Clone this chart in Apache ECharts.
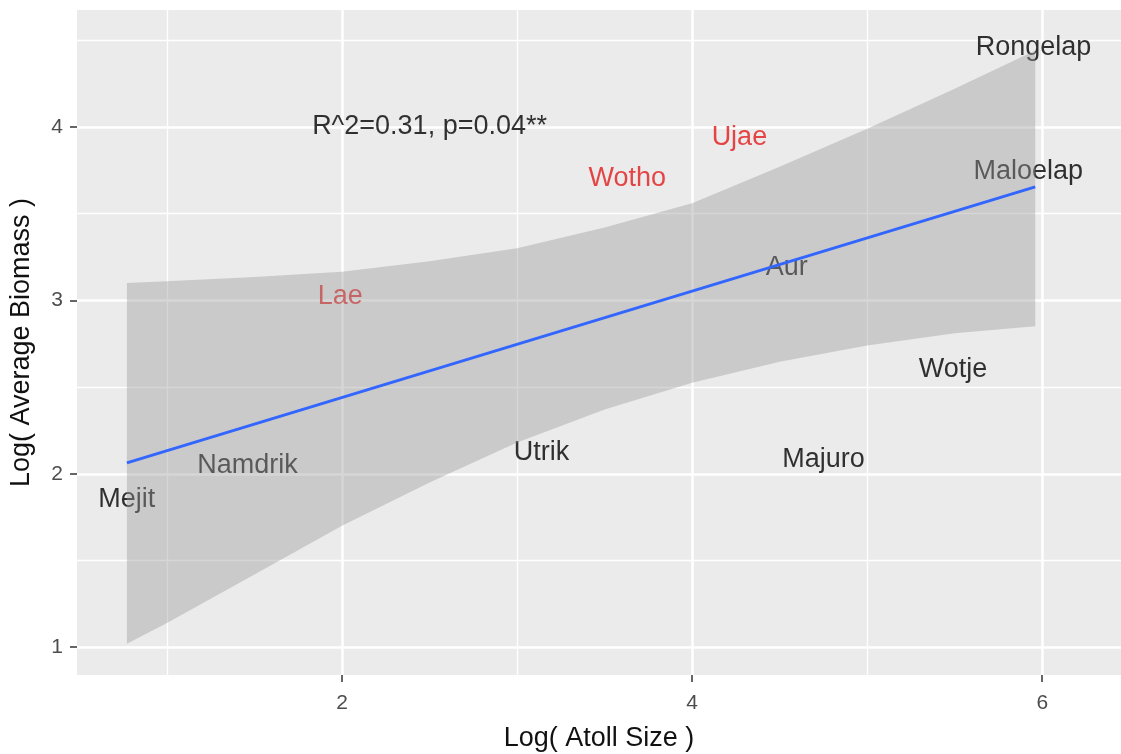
<!DOCTYPE html>
<html lang="en" style="height: 100%">
<head>
<meta charset="utf-8">
<title>Atoll size vs average biomass</title>
</head>
<body style="height: 100%; margin: 0; background: #fff">
<div id="container" style="height: 100%"></div>

<script type="text/javascript" src="https://cdn.jsdelivr.net/npm/echarts/dist/echarts.min.js"></script>

<script type="text/javascript">

var dom = document.getElementById('container');
var myChart = echarts.init(dom, null, {width: 1121, height: 754});

// atoll labels (geom_text points)
const atolls = ['Rongelap', 'Maloelap', 'Ujae', 'Wotho', 'Aur', 'Lae', 'Wotje', 'Majuro', 'Utrik', 'Namdrik', 'Mejit'];
const logAtollSize = [5.95, 5.92, 4.27, 3.63, 4.54, 1.99, 5.49, 4.75, 3.14, 1.46, 0.77];
const logBiomass = [4.46, 3.74, 3.94, 3.70, 3.19, 3.02, 2.60, 2.08, 2.12, 2.05, 1.85];
const redAtolls = ['Ujae', 'Wotho', 'Lae'];

// fitted line and its confidence band
const fitX = [0.771, 5.96];
const fitY = [2.063, 3.654];
const bandX = [0.771, 1, 1.5, 2, 2.5, 3, 3.5, 4, 4.5, 5, 5.5, 5.96];
const bandUpper = [3.10, 3.11, 3.135, 3.165, 3.225, 3.30, 3.42, 3.56, 3.77, 3.99, 4.22, 4.44];
const bandLower = [1.02, 1.14, 1.42, 1.70, 1.95, 2.18, 2.37, 2.525, 2.646, 2.74, 2.81, 2.85];

// annotation
const statsText = 'R^2=0.31, p=0.04**';
const statsPos = [2.5, 4.0];

// ticks and grid lines
const xTicks = [2, 4, 6];
const xMinor = [1, 3, 5];
const yTicks = [1, 2, 3, 4];
const yMinor = [1.5, 2.5, 3.5, 4.5];

const FONT = '"Liberation Sans", Arial, sans-serif';

var gridLines = [];
xTicks.forEach(function (v) { gridLines.push({xAxis: v, lineStyle: {width: 2.5}}); });
xMinor.forEach(function (v) { gridLines.push({xAxis: v, lineStyle: {width: 1.3}}); });
yTicks.forEach(function (v) { gridLines.push({yAxis: v, lineStyle: {width: 2.5}}); });
yMinor.forEach(function (v) { gridLines.push({yAxis: v, lineStyle: {width: 1.3}}); });

var labelData = atolls.map(function (name, i) {
    return {
        name: name,
        value: [logAtollSize[i], logBiomass[i]],
        label: {color: redAtolls.indexOf(name) >= 0 ? '#e41a1c' : '#000'}
    };
});
labelData.push({name: statsText, value: statsPos, label: {color: '#000'}});

var upperPts = bandX.map(function (x, i) { return [x, bandUpper[i]]; });
var lowerPts = bandX.map(function (x, i) { return [x, bandLower[i]]; });

var option = {
    animation: false,
    textStyle: {fontFamily: FONT},
    grid: {
        left: 77, right: 0, top: 10, bottom: 79,
        show: true, backgroundColor: '#ebebeb', borderWidth: 0,
        containLabel: false, outerBoundsMode: 'none'
    },
    xAxis: {
        type: 'value', min: 0.486, max: 6.45,
        name: 'Log( Atoll Size )', nameLocation: 'middle', nameGap: 50,
        nameTextStyle: {fontSize: 27, color: '#111', fontFamily: FONT},
        axisLine: {show: false},
        axisTick: {show: true, customValues: xTicks, length: 7, lineStyle: {color: '#333', width: 1.5}},
        axisLabel: {customValues: xTicks, fontSize: 21, color: '#4d4d4d', margin: 18, fontFamily: FONT},
        splitLine: {show: false}
    },
    yAxis: {
        type: 'value', min: 0.84, max: 4.674,
        name: 'Log( Average Biomass )', nameLocation: 'middle', nameGap: 42,
        nameTextStyle: {fontSize: 27, color: '#111', fontFamily: FONT},
        axisLine: {show: false},
        axisTick: {show: true, customValues: yTicks, length: 7, lineStyle: {color: '#333', width: 1.5}},
        axisLabel: {customValues: yTicks, fontSize: 21, color: '#4d4d4d', margin: 14, fontFamily: FONT},
        splitLine: {show: false}
    },
    series: [
        {
            // panel grid lines
            type: 'line', data: [], z: 1, silent: true,
            markLine: {
                z: 1, silent: true, symbol: 'none', animation: false,
                label: {show: false},
                lineStyle: {color: '#ffffff', type: 'solid'},
                data: gridLines
            }
        },
        {
            type: 'scatter', z: 2, silent: true,
            symbolSize: 1, itemStyle: {color: 'rgba(0,0,0,0)'},
            label: {
                show: true, position: 'inside', formatter: '{b}',
                fontSize: 27, fontFamily: FONT
            },
            data: labelData
        },
        {
            // confidence band, drawn over the labels like ggplot
            type: 'custom', z: 3, silent: true,
            data: [upperPts[0]],
            renderItem: function (params, api) {
                var pts = upperPts.map(function (p) { return api.coord(p); })
                    .concat(lowerPts.slice().reverse().map(function (p) { return api.coord(p); }));
                return {
                    type: 'polygon',
                    shape: {points: pts},
                    style: {fill: 'rgba(153,153,153,0.4)'}
                };
            }
        },
        {
            type: 'line', z: 4, silent: true,
            symbol: 'none',
            data: fitX.map(function (x, i) { return [x, fitY[i]]; }),
            lineStyle: {color: '#3366ff', width: 3}
        }
    ]
};

myChart.setOption(option);
window.addEventListener('resize', myChart.resize);
</script>
</body>
</html>
